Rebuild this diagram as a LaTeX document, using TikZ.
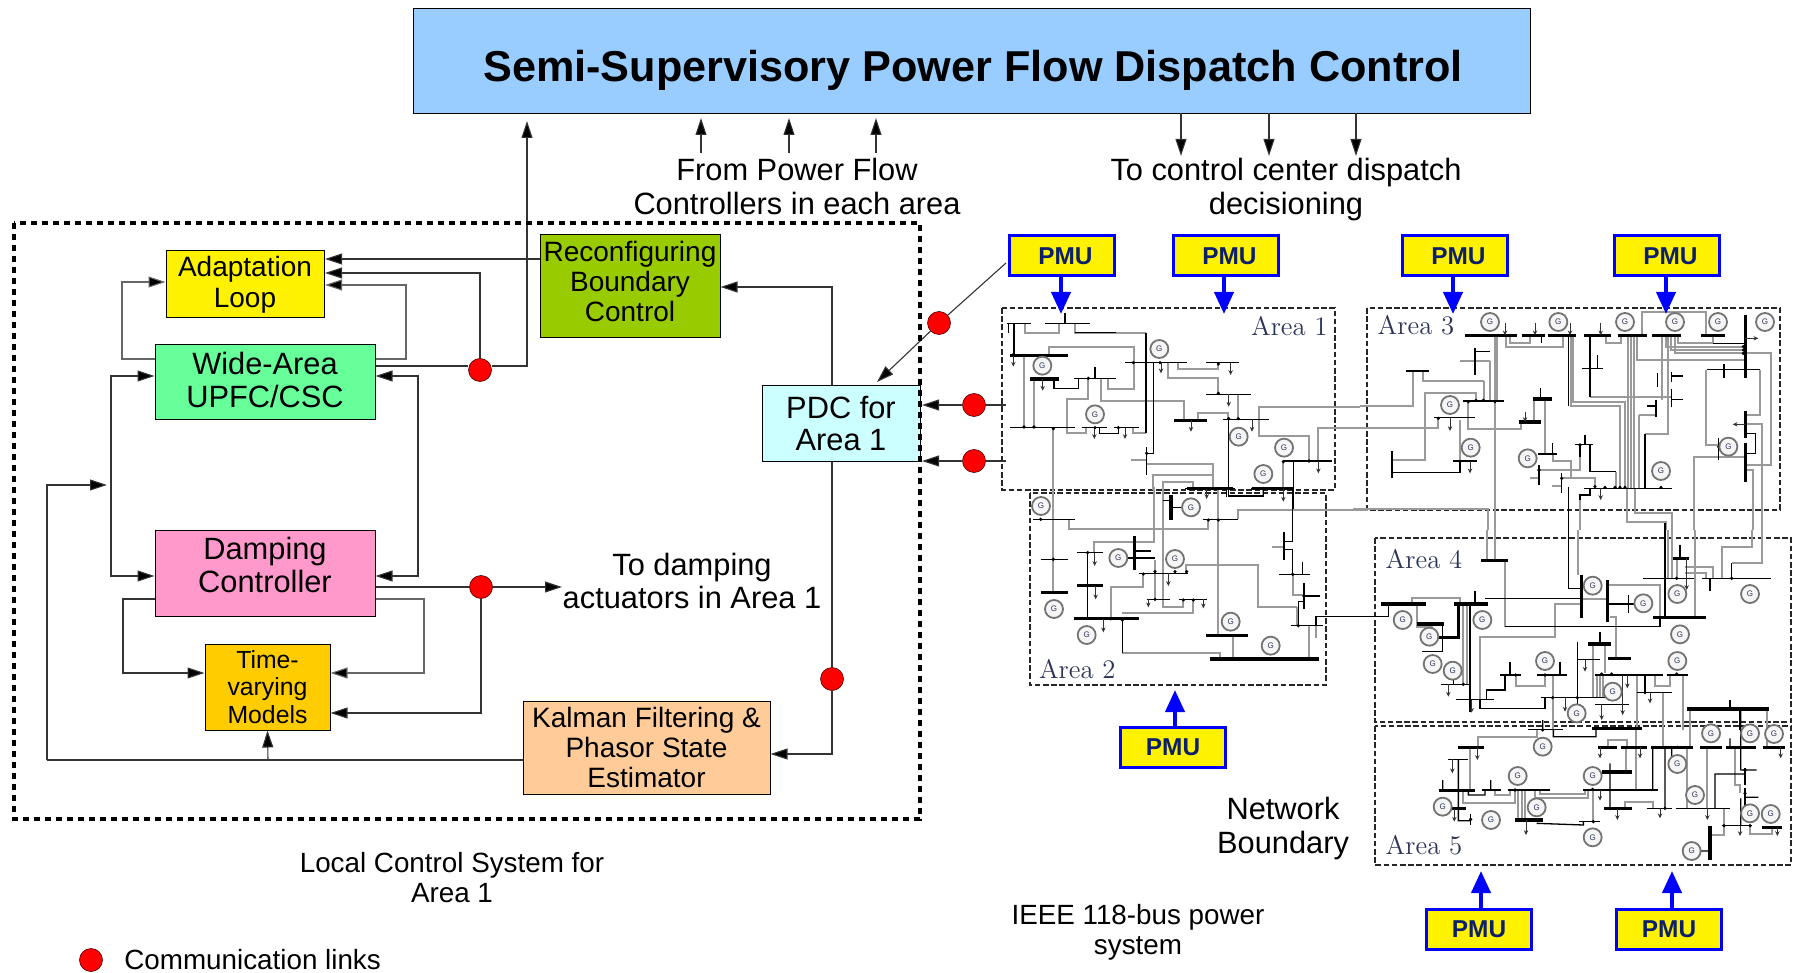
\documentclass[tikz,border=0pt]{standalone}
\usepackage{fontspec}
\setsansfont{Liberation Sans}
\usetikzlibrary{arrows.meta}
\definecolor{titleblue}{HTML}{99CCFF}
\definecolor{pmublue}{HTML}{0000FF}
\definecolor{pmutext}{HTML}{0B1F6A}
\definecolor{gline}{HTML}{9A9A9A}
\definecolor{arealab}{HTML}{2C3358}
\newcount\gencount
\tikzset{
 txt/.style={font=\sffamily\fontsize{15.4}{16.6}\selectfont,align=center,inner sep=0pt},
 txts/.style={font=\sffamily\fontsize{13.9}{15}\selectfont,align=center,inner sep=0pt},
 blockbox/.style={draw=black,line width=.5pt,align=center,inner sep=0pt,font=\sffamily\fontsize{15.4}{16.6}\selectfont},
 pmubox/.style={draw=pmublue,line width=1.5pt,fill=yellow,minimum width=52.5pt,minimum height=20pt,inner sep=0pt,text=pmutext,font=\sffamily\bfseries\fontsize{12.2}{13}\selectfont},
 redlink/.style={circle,draw=black!70!red,line width=.3pt,fill=red,minimum size=11.5pt,inner sep=0pt},
 conn/.style={draw=black!80,line width=.55pt,-{Triangle[length=8.5pt,width=5.5pt,fill=black]}},
 plainline/.style={draw=black!80,line width=.55pt},
 pmuarrow/.style={draw=pmublue,line width=2pt,-{Triangle[length=11pt,width=9.5pt,fill=pmublue]}},
 areabox/.style={draw=black!85,line width=.6pt,dash pattern=on 2.8pt off 1.3pt},
 arealabel/.style={text=arealab,font=\rmfamily\fontsize{13.4}{14}\selectfont,inner sep=0pt},
 gw/.style={draw=gline,line width=.95pt,line join=miter},
 kw/.style={draw=black,line width=.65pt},
 bt/.style={draw=black,line width=.7pt},
 bb/.style={draw=black,line width=1.7pt},
 lw/.style={draw=black!80,line width=.45pt,-{Stealth[length=2.4pt,width=2.2pt]}},
 gencirc/.style={circle,draw=black!55,line width=.9pt,fill=black!4,minimum size=9pt,inner sep=0pt,text=arealab,font=\sffamily\fontsize{4}{4}\selectfont},
 zoomunits/.style={x=.16667pt,y=-.16667pt}
}
\newcommand\gn[2]{\global\advance\gencount by 1 \node[gencirc] (gen\the\gencount) at (#1,#2) {G};}
\newcommand\ld[4]{\draw[lw] (#1,#2)--(#3,#4);}
\newcommand\dts[1]{\foreach \p in {#1} \fill[black] \p circle (.9pt);}
\newcommand\pmulabel{\hspace*{3.4pt}\raisebox{-1.6pt}{PMU}}
\newcommand\pmulabelb{\raisebox{-1.6pt}{PMU}}
\begin{document}
\begin{tikzpicture}[x=.5pt,y=-.5pt]
\useasboundingbox (0,0) rectangle (1800,973);
%% blocks
\node[blockbox,fill=titleblue,minimum width=558.5pt,minimum height=52.5pt] (title) at (971.5,61) {};
\node[font=\sffamily\bfseries\fontsize{21.6}{24}\selectfont,inner sep=0pt] (titletext) at (973,70) {Semi-Supervisory Power Flow Dispatch Control};
\node[blockbox,fill=yellow,minimum width=79pt,minimum height=33.5pt,font=\sffamily\fontsize{14}{15.4}\selectfont] (adapt) at (245,284.5) {Adaptation\\Loop};
\node[blockbox,fill={rgb,255:red,102;green,255;blue,153},minimum width=110pt,minimum height=37pt] (wide) at (265,382) {};
\node[txt] (widetext) at (265,380) {Wide-Area\\UPFC/CSC};
\node[blockbox,fill={rgb,255:red,255;green,153;blue,204},minimum width=110pt,minimum height=43pt] (damp) at (265,573) {};
\node[txt] (damptext) at (265,565) {Damping\\Controller};
\node[blockbox,fill={rgb,255:red,255;green,204;blue,0},minimum width=62.5pt,minimum height=43pt,font=\sffamily\fontsize{12.4}{13.6}\selectfont] (time) at (267.5,687) {Time-\\varying\\Models};
\node[blockbox,fill={rgb,255:red,255;green,204;blue,153},minimum width=123.5pt,minimum height=46.5pt,font=\sffamily\fontsize{14}{15}\selectfont] (kalman) at (646.5,747.5) {Kalman Filtering \&\\Phasor State\\Estimator};
\node[blockbox,fill={rgb,255:red,153;green,204;blue,0},minimum width=90pt,minimum height=51.5pt] (reconf) at (630,286.5) {};
\node[txts,font=\sffamily\fontsize{14}{15}\selectfont] (reconftext) at (630,281.5) {Reconfiguring\\Boundary\\Control};
\node[blockbox,fill={rgb,255:red,204;green,255;blue,255},minimum width=79pt,minimum height=37.5pt,font=\sffamily\fontsize{15.4}{16}\selectfont] (pdc) at (841,423.5) {PDC for\\Area 1};
%% named junctions
\coordinate (tip0) at (527,121);
\coordinate (c0) at (527,366);
\coordinate (up1b) at (701,153); \coordinate (up1t) at (701,118);
\coordinate (up2b) at (789,153); \coordinate (up2t) at (789,118);
\coordinate (up3b) at (876,153); \coordinate (up3t) at (876,118);
\coordinate (dn1t) at (1181,113); \coordinate (dn1b) at (1181,156);
\coordinate (dn2t) at (1269,113); \coordinate (dn2b) at (1269,156);
\coordinate (dn3t) at (1356,113); \coordinate (dn3b) at (1356,156);
\coordinate (actu) at (562,587);
\coordinate (leftend) at (47,760);
\coordinate (leftjoin) at (107,485);
\coordinate (stub1) at (1006,405);
\coordinate (stub2) at (1006,461);
%% links
\node[redlink] (r1) at (480,370) {};
\node[redlink] (r2) at (481,587) {};
\node[redlink] (r3) at (832,679) {};
\node[redlink] (r4) at (939,323) {};
\node[redlink] (r5) at (974,405) {};
\node[redlink] (r6) at (974,461) {};
\node[redlink] (r7) at (91,960) {};
%% left connectors
\draw[plainline] (wide.east |- c0) -- (r1.west |- c0);
\draw[conn] (r1.east |- c0) -- (c0) -- (tip0);
\draw[conn] (r1.north) |- (325,273);
\draw[conn] (reconf.west |- 0,259) -- (325,259);
\draw[conn,draw=black!60] (wide.east |- 0,359) -| (406,285) -- (325,285);
\draw[conn,draw=black!60] (wide.west |- 0,359) -| (122,282) -- (adapt.west |- 0,282);
\draw[conn] (111,481) |- (wide.west |- 0,376);
\draw[conn] (111,481) |- (damp.west |- 0,576);
\draw[conn] (418,481) |- (wide.east |- 0,376);
\draw[conn] (418,481) |- (damp.east |- 0,576);
\draw[conn] (leftend) -- (47,485) -- (leftjoin);
\draw[plainline] (leftend) -- (kalman.west |- leftend);
\draw[conn] (268,760) -- (time.south);
\draw[plainline] (damp.east |- r2) -- (r2.west);
\draw[conn] (r2.east) -- (actu);
\draw[conn] (r2.south) |- (time.east |- 0,713);
\draw[conn,draw=black!60] (damp.east |- 0,599) -- (424,599) -- (424,673) -- (time.east |- 0,673);
\draw[conn] (damp.west |- 0,599) -- (123,599) -- (123,673) -- (time.west |- 0,673);
\draw[conn] (pdc.north -| r3) -- (832,287) -- (reconf.east |- 0,287);
\draw[plainline] (pdc.south -| r3) -- (r3.north);
\draw[conn] (r3.south) |- (kalman.east |- 0,754);
\draw[plainline] (1006,263) -- (r4);
\draw[conn] (r4) -- (877,382);
\draw[plainline] (stub1) -- (r5.east);
\draw[conn] (r5.west) -- (922,405);
\draw[plainline] (stub2) -- (r6.east);
\draw[conn] (r6.west) -- (922,461);
\draw[conn] (up1b) -- (up1t);
\draw[conn] (up2b) -- (up2t);
\draw[conn] (up3b) -- (up3t);
\draw[conn] (dn1t) -- (dn1b);
\draw[conn] (dn2t) -- (dn2b);
\draw[conn] (dn3t) -- (dn3b);
%% dotted frame
\draw[black,line width=1.9pt,dash pattern=on 3.2pt off 2.3pt] (14,223) rectangle (920,819);
%% free text
\node[txt] (t1) at (797,186.5) {From Power Flow\\Controllers in each area};
\node[txt] (t2) at (1286,189.5) {To control center dispatch\\decisioning};
\node[txt] (t3) at (692,581) {To damping\\actuators in Area 1};
\node[txts] (t4) at (452,878) {Local Control System for\\Area 1};
\node[txts,anchor=west] (t5) at (124,960) {Communication links};
\node[txt] (t6) at (1283,828.5) {Network\\Boundary};
\node[txts] (t7) at (1138,932) {IEEE 118-bus power\\system};
%% area boxes
\draw[areabox] (1002,308) rectangle (1335,490);
\draw[areabox] (1030,493) rectangle (1326,685);
\draw[areabox] (1367,308) rectangle (1780,510);
\draw[areabox] (1375,538) rectangle (1791,722);
\draw[areabox] (1375,726) rectangle (1791,865);
%% ---- Area 1
\begin{scope}[shift={(1000,290)},zoomunits]
\draw[gw] (75,100)--(75,130)--(178,130)--(178,100)
 (225,100)--(225,128)--(438,128)
 (72,197)--(72,413) (102,267)--(102,413)
 (148,197)--(148,172)--(402,172)--(402,298)--(325,298)--(325,265)
 (265,265)--(265,328)--(200,328)--(200,430)--(258,430)--(258,413)
 (303,265)--(303,333)--(552,333)--(552,391)
 (160,413)--(160,605)
 (400,413)--(400,430)--(438,430)
 (505,218)--(505,265)--(655,265)--(655,313)
 (535,218)--(535,238)--(655,238)--(655,218)
 (715,313)--(715,388)
 (595,391)--(595,370)--(685,370)--(685,388)
 (440,522)--(640,522)--(640,596)
 (392,510)--(440,510)
 (778,388)--(778,437)--(927,437)--(927,513)
 (1080,350)--(778,350)--(778,388)
 (1080,415)--(955,415)--(955,513)
 (850,513)--(850,596)
 (686,618)--(790,618)--(790,596)
 (460,600)--(460,555)--(640,555)--(640,600)
 (490,600)--(490,575)--(580,575)--(580,596);
\draw[kw] (42,100)--(42,197) (25,100)--(25,130)
 (225,128)--(348,128) (438,128)--(438,430)
 (162,267)--(162,295)--(235,295)--(235,265)
 (298,413)--(298,430)--(355,430)--(355,413)
 (195,68)--(195,100) (285,232)--(285,265)
 (686,388)--(686,618)
 (460,218)--(460,490)--(440,490)
 (880,513)--(880,660);
\draw[bt] (20,100)--(92,100) (135,100)--(270,100) (222,265)--(347,265) (30,413)--(225,413)
 (245,413)--(320,413) (343,413)--(418,413) (375,218)--(560,218) (618,218)--(716,218)
 (618,313)--(753,313) (668,388)--(808,388) (440,472)--(440,555) (848,513)--(997,513)
 (556,596)--(705,596) (752,596)--(880,596);
\draw[bb] (30,197)--(205,197) (90,267)--(177,267) (523,391)--(622,391) (560,596)--(700,596) (755,596)--(878,596);
\ld{483}{218}{483}{250}\ld{692}{218}{692}{255}\ld{686}{313}{686}{350}\ld{573}{391}{573}{425}
\ld{756}{388}{756}{425}\ld{283}{413}{283}{447}\ld{375}{413}{375}{447}\ld{128}{267}{128}{302}
\ld{40}{197}{40}{230}\ld{955}{513}{955}{550}\ld{620}{596}{620}{627}\ld{850}{596}{850}{635}
\dts{(72,411),(102,411),(400,218),(438,218),(480,218),(655,222),(655,310),(686,386),(715,386),(40,194),(265,265),(285,413),(355,413),(160,416),(850,515),(927,513),(640,596),(686,596),(790,596),(440,490)}
\gn{127}{227}\gn{285}{373}\gn{478}{177}\gn{716}{440}\gn{852}{473}\gn{790}{552}
\node[arealabel] (a1) at (868,107) {Area 1};
\end{scope}
%% ---- Area 2
\begin{scope}[shift={(1020,480)},zoomunits]
\draw[gw] (100,30)--(100,335)
 (147,118)--(147,148)--(565,148)--(565,118)
 (595,30)--(595,465)
 (403,20)--(403,185)--(222,185)--(222,218)
 (520,20)--(520,5)--(430,5)--(430,380)--(490,380)--(490,358)
 (655,118)--(655,90)--(1045,90)
 (755,200)--(792,200)
 (820,283)--(820,345)--(850,345)
 (832,380)--(715,380)--(715,255)--(497,255)--(497,278)
 (830,380)--(830,437)
 (888,437)--(888,475)
 (866,437)--(866,535)
 (640,466)--(640,537)
 (307,520)--(600,520)--(600,537)
 (272,416)--(272,322)--(370,322)--(370,280)
 (307,400)--(520,400)--(520,358)
 (405,240)--(405,358);
\draw[kw] (430,62)--(453,62) (818,27)--(818,185)--(792,185)
 (792,208)--(818,208)--(818,283) (848,245)--(848,283)
 (852,348)--(900,348) (852,365)--(835,365)--(835,437)
 (888,437)--(888,410)--(1080,410)
 (307,416)--(307,520) (203,218)--(203,416)
 (343,213)--(392,213) (318,234)--(343,234)--(405,234)
 (453,82)--(490,82) (620,27)--(620,50) (625,27)--(625,48)--(730,48)--(730,27);
\draw[bt] (40,118)--(165,118) (548,118)--(655,118) (62,238)--(143,238) (172,218)--(248,218)
 (778,283)--(870,283) (812,437)--(908,437) (357,280)--(505,280)
 (380,358)--(450,358) (477,358)--(562,358) (792,155)--(792,240) (852,310)--(852,388);
\draw[bb] (453,45)--(453,120) (62,337)--(143,337) (570,537)--(898,537) (558,466)--(683,466)
 (162,416)--(358,416) (172,317)--(248,317) (343,168)--(343,270);
\ld{224}{218}{224}{258}\ld{227}{317}{227}{358}\ld{250}{416}{250}{457}\ld{445}{280}{445}{318}
\ld{385}{358}{385}{382}\ld{550}{358}{550}{385}
\dts{(100,238),(203,218),(370,282),(405,275),(465,275),(500,275),(405,358),(490,360),(520,360),(565,120),(595,120),(818,283),(852,348),(835,437),(307,420),(272,416),(62,118)}
\gn{63}{78}\gn{102}{387}\gn{200}{465}\gn{295}{234}\gn{513}{82}\gn{465}{237}\gn{632}{425}\gn{752}{497}
\node[arealabel] (a2) at (172,567) {Area 2};
\end{scope}
%% ---- Area 3
\begin{scope}[shift={(1360,290)},zoomunits]
\draw[gw] (405,136)--(405,720) (385,720)--(385,658)--(-20,658)
 (390,212)--(345,212) (300,212)--(345,212) (390,212)--(390,333) (372,272)--(372,333)
 (412,136)--(412,333)
 (160,245)--(160,348)--(0,348)
 (190,243)--(190,272)--(372,272)
 (96,510)--(195,510)--(195,310)--(348,310)--(348,333)
 (300,390)--(300,515)
 (235,383)--(235,415)--(0,415)
 (325,333)--(325,418)--(482,418)--(482,398)
 (523,327)--(523,396)
 (555,327)--(555,492)--(535,492)
 (578,492)--(578,512)--(632,512)--(632,565)
 (660,463)--(660,540)--(535,540)
 (768,545)--(768,595)
 (605,565)--(705,565)--(705,590)
 (510,565)--(537,565) (575,588)--(605,588)
 (640,136)--(640,335)--(795,335)--(795,595)
 (632,136)--(632,348)--(780,348)--(780,595)
 (803,136)--(803,595) (812,136)--(812,595) (821,136)--(821,595)
 (690,320)--(935,320)
 (905,136)--(905,330)
 (925,136)--(925,432)--(855,432)
 (944,136)--(944,190)--(1156,190)
 (934,136)--(934,180)--(1156,180)
 (918,136)--(918,170)--(1156,170)
 (830,136)--(830,210)--(1156,210)
 (437,136)--(437,172)--(610,172)--(610,136)
 (450,136)--(450,158)--(510,158)--(510,136)
 (738,136)--(738,158)--(782,158)--(782,136)
 (845,136)--(845,65)--(1037,65)--(1037,136)
 (955,136)--(955,158)--(1060,158)--(1060,136)
 (1156,190)--(1232,190)--(1232,525)--(1160,525)
 (1038,239)--(1038,465)--(1075,465)
 (1200,239)--(1200,375)--(1156,375)
 (1156,403)--(1205,403)--(1205,720)
 (1178,720)--(1178,540)--(1156,540)
 (1003,720)--(1003,500)--(1156,500)
 (838,375)--(838,595) (838,375)--(888,375)
 (800,595)--(800,695)--(918,695)--(918,720)
 (825,595)--(825,670)--(935,670)--(935,720)
 (660,720)--(660,630);
\draw[kw] (345,184)--(390,184) (96,548)--(300,548)--(300,515)
 (545,136)--(545,158) (542,295)--(542,327)
 (675,435)--(675,463)
 (690,463)--(690,545)--(768,545)
 (625,136)--(625,348) (690,136)--(690,320)
 (712,195)--(712,235)
 (855,595)--(855,432)
 (1060,160)--(1156,160)
 (1156,430)--(1187,430)--(1187,490)--(1160,490)
 (625,590)--(625,720)
 (660,630)--(660,615)--(690,615)--(690,595)
 (915,700)--(915,720)
 (935,258)--(970,258) (935,328)--(970,328) (860,348)--(890,348)
 (537,525)--(537,585) (605,548)--(605,610)
 (660,463)--(660,500) (578,460)--(578,492);
\draw[bt] (138,243)--(208,243) (310,333)--(432,333) (222,383)--(345,383) (280,513)--(350,513)
 (535,492)--(590,492) (645,463)--(700,463) (667,235)--(730,235) (672,595)--(935,595)
 (1040,239)--(1200,239) (96,483)--(96,565) (345,175)--(345,255) (1092,222)--(1092,265)
 (892,250)--(892,290) (935,245)--(935,275) (935,298)--(935,350) (888,330)--(888,380) (1076,445)--(1076,510);
\draw[bb] (315,136)--(472,136) (487,136)--(555,136) (563,136)--(648,136) (672,136)--(753,136)
 (773,136)--(862,136) (877,136)--(962,136) (1022,136)--(1095,136)
 (1156,75)--(1156,265) (1156,363)--(1156,445) (1156,458)--(1156,575)
 (478,396)--(543,396) (518,327)--(577,327);
\ld{1156}{145}{1195}{145}\ld{330}{513}{330}{550}\ld{270}{383}{270}{423}\ld{495}{365}{495}{396}
\ld{722}{595}{722}{630}\ld{1156}{403}{1118}{403}\ld{435}{100}{435}{136}\ld{525}{100}{525}{136}\ld{630}{100}{630}{136}\ld{722}{100}{722}{136}
\dts{(348,331),(370,331),(405,335),(325,335),(235,385),(300,515),(537,540),(605,565),(705,590),(735,592),(765,592),(780,592),(795,592),(903,592),(1150,170),(1150,180),(1150,190),(1156,239),(1076,470),(660,465)}
\gn{390}{96}\gn{595}{96}\gn{795}{96}\gn{945}{96}\gn{1074}{96}\gn{1215}{96}\gn{270}{345}\gn{332}{473}\gn{503}{505}\gn{903}{543}\gn{1105}{470}
\node[arealabel] (a3) at (168,107) {Area 3};
\end{scope}
%% ---- Area 4
\begin{scope}[shift={(1370,530)},zoomunits]
\draw[gw] (350,0)--(350,90) (375,0)--(375,90)
 (405,91)--(405,290)
 (625,0)--(625,135)
 (713,165)--(870,165)--(870,262) (640,207)--(713,207)
 (905,0)--(905,145) (895,0)--(895,145)
 (975,0)--(975,262)
 (920,85)--(920,145) (945,110)--(1030,110)--(1030,145) (945,130)--(1008,130)--(1008,145)
 (1055,145)--(1055,50)--(1145,50)--(1145,0)
 (1085,100)--(1175,100)--(1175,0)
 (125,222)--(125,205)--(270,205)--(270,222)
 (140,222)--(140,290)--(185,290)--(185,305)
 (280,222)--(280,463) (290,222)--(290,463)
 (330,508)--(330,320)--(555,320)--(555,222)--(630,222)
 (437,435)--(437,468)--(525,468)--(525,435)
 (548,435)--(548,600)
 (670,342)--(670,503) (705,342)--(705,430)
 (720,262)--(738,262)--(738,386)
 (680,435)--(680,503) (690,435)--(690,503) (700,435)--(700,503)
 (800,435)--(800,600)
 (878,488)--(878,600)
 (855,435)--(855,468)--(900,468)--(900,435)
 (940,435)--(940,600) (960,537)--(960,600) (1190,537)--(1190,600);
\draw[kw] (405,290)--(870,290)--(870,262)
 (595,0)--(595,175)--(635,175)
 (885,0)--(885,262) (930,45)--(930,85) (1085,100)--(1085,145) (1020,145)--(1020,183)
 (0,260)--(55,260)--(55,222) (315,183)--(315,222)
 (345,205)--(635,205)
 (218,282)--(218,365) (250,437)--(250,463)
 (300,222)--(300,545)
 (330,508)--(330,535)--(525,535)--(525,505)
 (350,508)--(350,480)--(405,480)--(405,435)
 (420,395)--(420,435) (570,395)--(570,435)
 (622,335)--(622,530) (690,305)--(690,342)
 (825,435)--(825,488)
 (1080,510)--(1080,537) (1110,537)--(1110,600)
 (713,222)--(775,222)--(800,222);
\draw[line width=1.2pt] (265,222)--(265,322);
\draw[bt] (820,145)--(972,145) (995,145)--(1202,145) (213,463)--(300,463) (258,508)--(372,508) (390,435)--(452,435)
 (500,435)--(590,435) (512,503)--(710,503) (625,389)--(690,389) (675,523)--(778,523)
 (800,488)--(905,488) (890,435)--(955,435) (157,365)--(220,365) (675,435)--(878,435) (775,195)--(775,250);
\draw[bb] (333,91)--(415,91) (635,135)--(635,265) (713,150)--(713,275) (848,262)--(1008,262)
 (910,85)--(958,85) (32,222)--(168,222) (252,222)--(355,222) (140,282)--(222,282) (205,322)--(270,322)
 (653,342)--(722,342) (715,386)--(783,386) (950,537)--(1197,537);
\ld{950}{85}{950}{180}\ld{235}{463}{235}{500}\ld{305}{508}{305}{548}\ld{585}{503}{585}{545}\ld{645}{389}{645}{425}\ld{758}{435}{758}{555}\ld{772}{435}{772}{475}\ld{840}{488}{840}{520}\ld{695}{523}{695}{570}
\dts{(775,222),(405,437),(437,435),(525,435),(548,503),(622,503),(695,432),(725,432),(825,488),(920,432),(1110,537),(885,145),(920,145),(1085,145),(280,463),(300,508)}
\gn{668}{167}\gn{820}{220}\gn{922}{192}\gn{1140}{192}\gn{930}{313}\gn{98}{270}\gn{337}{270}\gn{178}{320}\gn{188}{402}\gn{248}{422}\gn{525}{393}\gn{620}{550}\gn{728}{485}\gn{922}{393}
\node[arealabel] (a4) at (162,88) {Area 4};
\end{scope}
%% ---- Area 5
\begin{scope}[shift={(1370,710)},zoomunits]
\draw[gw] (325,112)--(325,80)--(500,80)--(500,58)
 (300,112)--(300,240)
 (280,242)--(280,278)--(435,278)--(435,240)
 (375,240)--(375,255)--(420,255)--(420,240)
 (445,240)--(445,330) (455,240)--(455,330) (465,240)--(465,330)
 (670,240)--(670,335)
 (495,240)--(495,264)--(655,264)--(655,240) (510,240)--(510,252)--(645,252)--(645,240)
 (715,112)--(715,90)--(770,90)--(770,112) (768,112)--(768,186) (797,112)--(797,240)
 (765,295)--(765,275)--(850,275)--(850,295)
 (950,112)--(950,295)
 (1062,295)--(1062,375)--(1025,375)
 (1012,112)--(1012,295)
 (1095,112)--(1095,225)--(1110,225)--(1110,250)
 (1140,347)--(1140,372)--(1205,372)--(1205,352)
 (878,60)--(878,112) (797,60)--(797,112) (960,60)--(960,112) (1190,60)--(1190,112);
\draw[kw] (518,30)--(518,60) (550,58)--(550,80)--(678,80)--(678,58)
 (265,148)--(265,305) (218,210)--(218,242) (265,296)--(265,332)--(302,332)
 (295,242)--(295,255)--(345,255)--(345,240) (362,210)--(362,240)
 (500,340)--(640,345)--(640,335)
 (720,160)--(720,296)
 (848,112)--(848,240) (885,112)--(885,295) (905,112)--(905,140)
 (1112,0)--(1112,180) (1080,85)--(1080,112)
 (1112,180)--(1160,180) (1125,262)--(1165,262) (1112,265)--(1112,345)
 (1035,295)--(1035,192)--(1125,192)
 (990,423)--(1020,423);
\draw[bt] (475,58)--(578,58) (235,148)--(295,148) (335,240)--(392,240) (415,240)--(540,240)
 (628,335)--(690,335) (640,240)--(865,240) (830,295)--(905,295) (918,295)--(1080,295)
 (1055,347)--(1147,347) (1125,175)--(1125,225) (1125,235)--(1125,290) (302,312)--(302,345);
\draw[bb] (665,56)--(815,56) (263,112)--(342,112) (208,242)--(315,242) (245,296)--(288,296)
 (435,330)--(520,330) (695,186)--(785,186) (703,296)--(785,296)
 (685,112)--(740,112) (752,112)--(830,112) (842,112)--(970,112) (990,112)--(1055,112)
 (1068,112)--(1158,112) (1178,112)--(1245,112) (1175,352)--(1235,352) (1020,347)--(1020,450);
\ld{322}{112}{322}{150}\ld{247}{148}{247}{190}\ld{253}{296}{253}{335}\ld{468}{330}{468}{375}\ld{690}{240}{690}{272}\ld{690}{112}{690}{145}\ld{810}{112}{810}{145}\ld{742}{296}{742}{330}\ld{870}{295}{870}{325}\ld{1012}{295}{1012}{330}\ld{1232}{112}{1232}{145}\ld{1110}{347}{1110}{378}\ld{1222}{352}{1222}{378}
\dts{(518,60),(265,242),(302,328),(435,240),(668,238),(720,186),(720,296),(885,295),(922,112),(1110,112),(1062,347),(1140,347),(1125,180),(1125,250),(670,335)}
\gn{518}{110}\gn{443}{198}\gn{668}{198}\gn{218}{290}\gn{363}{330}\gn{500}{292}\gn{668}{382}\gn{922}{162}\gn{975}{255}\gn{1023}{70}\gn{1140}{70}\gn{1212}{72}\gn{1140}{310}\gn{1202}{312}\gn{965}{423}
\node[arealabel] (a5) at (162,407) {Area 5};
\end{scope}
%% PMUs
\node[pmubox] (p1) at (1062,256) {\pmulabel};
\node[pmubox] (p2) at (1226,256) {\pmulabel};
\node[pmubox] (p3) at (1455,256) {\pmulabel};
\node[pmubox] (p4) at (1667,256) {\pmulabel};
\node[pmubox] (p5) at (1173,747) {\pmulabelb};
\node[pmubox] (p6) at (1479,929) {\pmulabelb};
\node[pmubox] (p7) at (1669,929) {\pmulabelb};
\coordinate (p1t) at (1061,314); \coordinate (p2t) at (1224,314); \coordinate (p3t) at (1453,314); \coordinate (p4t) at (1666,314);
\coordinate (p5t) at (1175,690); \coordinate (p6t) at (1481,871); \coordinate (p7t) at (1672,871);
\draw[pmuarrow] (p1.south -| p1t) -- (p1t);
\draw[pmuarrow] (p2.south -| p2t) -- (p2t);
\draw[pmuarrow] (p3.south -| p3t) -- (p3t);
\draw[pmuarrow] (p4.south -| p4t) -- (p4t);
\draw[pmuarrow] (p5.north -| p5t) -- (p5t);
\draw[pmuarrow] (p6.north -| p6t) -- (p6t);
\draw[pmuarrow] (p7.north -| p7t) -- (p7t);
\end{tikzpicture}
\end{document}
